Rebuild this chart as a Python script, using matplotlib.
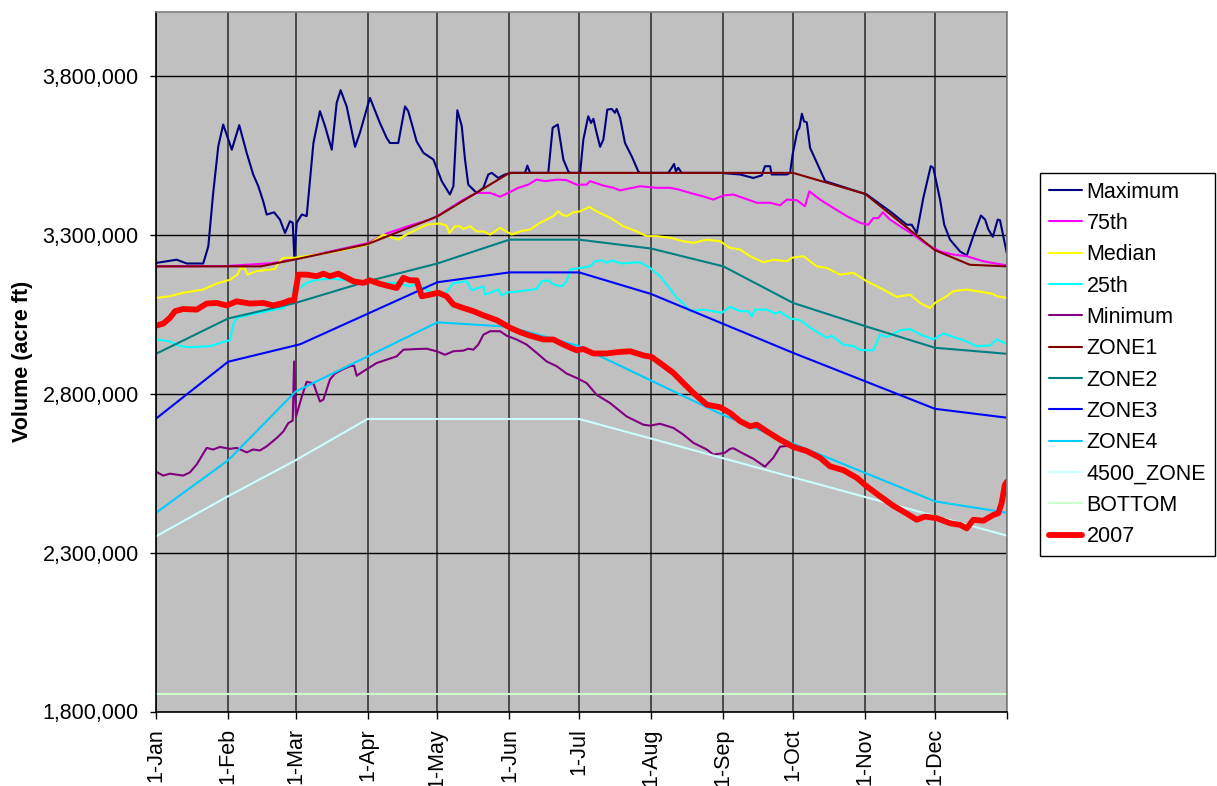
import matplotlib
matplotlib.use('Agg')
import matplotlib.pyplot as plt
from matplotlib.ticker import FuncFormatter
import numpy as np

plt.rcParams['font.family'] = ['Liberation Sans', 'DejaVu Sans']

# day of year (leap-year axis, 0..366), volume in thousand acre ft
month_starts = [0, 31, 60, 91, 121, 152, 182, 213, 244, 274, 305, 335]
month_labels = ['1-Jan', '1-Feb', '1-Mar', '1-Apr', '1-May', '1-Jun',
                '1-Jul', '1-Aug', '1-Sep', '1-Oct', '1-Nov', '1-Dec']

max_day = [0.3, 8.9, 13.2, 20.3, 22.5, 24.6, 26.8, 28.9, 32.6, 35.8, 39.0, 41.8, 44.0, 46.1, 47.6, 50.8,
           53.3, 55.5, 57.6, 58.8, 59.5, 60.5, 62.7, 64.8, 67.7, 70.5, 72.7, 75.6, 77.7, 79.4, 82.0, 85.6,
           87.7, 92.0, 96.3, 99.2, 100.6, 104.2, 107.1, 108.5, 112.1, 115.0, 119.3, 122.9, 126.4, 127.9,
           129.6, 131.5, 132.9, 134.3, 137.9, 140.8, 142.9, 144.4, 147.2, 150.1, 153.0, 158.7, 159.7, 160.9,
           168.7, 170.6, 172.8, 175.2, 177.3, 178.1, 182.4, 183.8, 185.9, 187.1, 188.1, 189.5, 191.0, 192.4,
           194.1, 196.0, 197.4, 198.1, 199.6, 201.7, 204.6, 207.4, 208.2, 220.3, 221.8, 222.8, 223.6, 224.6,
           226.1, 242.6, 251.2, 256.9, 260.5, 261.9, 264.1, 264.8, 271.3, 272.7, 273.8, 275.8, 276.7, 277.8,
           278.7, 279.9, 281.3, 284.9, 287.8, 305.7, 315.7, 322.9, 325.0, 327.2, 330.0, 333.2, 334.3, 337.2,
           339.0, 341.5, 345.8, 348.7, 351.5, 354.8, 356.6, 358.0, 359.9, 362.0, 363.0, 365.9]
max_val = [3211, 3221, 3209, 3209, 3263, 3431, 3578, 3646, 3567, 3644, 3557, 3489, 3452, 3405, 3363, 3370,
           3347, 3305, 3342, 3337, 3227, 3337, 3363, 3358, 3588, 3688, 3641, 3567, 3714, 3754, 3703, 3576,
           3620, 3730, 3651, 3604, 3588, 3588, 3703, 3688, 3593, 3557, 3536, 3468, 3426, 3452,
           3691, 3641, 3536, 3457, 3431, 3447, 3489, 3494, 3478, 3489, 3494, 3494, 3517, 3494,
           3494, 3636, 3646, 3536, 3499, 3494, 3494, 3599, 3672, 3651, 3664, 3620, 3576, 3599,
           3693, 3695, 3683, 3695, 3667, 3588, 3546, 3499, 3494, 3494, 3510, 3522, 3499, 3510,
           3494, 3494, 3489, 3478, 3486, 3515, 3515, 3489, 3489, 3494, 3552, 3625, 3636, 3680,
           3656, 3653, 3573, 3515, 3468, 3426, 3373, 3331, 3331, 3305, 3415, 3515, 3510, 3410,
           3331, 3284, 3247, 3234, 3295, 3360, 3347, 3316, 3293, 3347, 3345, 3242]

p75_day = [0, 30, 50, 60, 75, 91, 99, 110, 117.8, 122.1, 132.2, 137.9, 143.7, 148.0, 151.5, 155.8, 160.1,
           163.7, 167.3, 173.0, 176.6, 180.9, 185.2, 186.7, 192.4, 196.7, 199.6, 208.2, 215.4, 221.1, 224.6,
           229.7, 235.4, 239.7, 244.0, 248.3, 252.6, 258.4, 264.1, 268.4, 271.3, 275.6, 279.1, 281.0, 285.6,
           291.3, 297.1, 302.8, 306.4, 308.5, 310.7, 312.6, 315.7, 320.0, 325.7, 331.5, 337.2, 342.9, 348.7,
           355.8, 365.9]
p75_val = [3200, 3201, 3210, 3224, 3247, 3273, 3303, 3330, 3347, 3363, 3410, 3431, 3431, 3419, 3431, 3447, 3457,
           3473, 3468, 3473, 3471, 3457, 3457, 3468, 3454, 3447, 3439, 3452, 3447, 3447, 3442,
           3431, 3420, 3410, 3423, 3426, 3415, 3400, 3400, 3392, 3410, 3408, 3389, 3436, 3410,
           3384, 3358, 3337, 3331, 3352, 3352, 3370, 3347, 3326, 3300, 3269, 3247, 3237, 3232,
           3216, 3203]

med_day = [0.3, 6.0, 11.7, 20.3, 26.1, 31.8, 35.0, 36.4, 38.3, 39.3, 43.3, 46.9, 51.2, 52.6, 54.8, 59.8, 75,
           91, 97.8, 104.2, 106.4, 112.1, 116.4, 122.1, 125.0, 126.2, 128.6, 130.7, 132.2, 135.1, 137.9,
           140.8, 143.7, 148.0, 153.0, 156.6, 160.9, 165.2, 170.9, 173.0, 174.5, 176.6, 179.5, 182.4, 186.4,
           189.5, 195.3, 201.0, 206.7, 211.0, 215.4, 221.1, 226.8, 231.1, 236.9, 242.6, 246.9, 251.2, 255.5,
           261.2, 265.5, 271.3, 273.4, 278.4, 281.3, 284.2, 288.5, 294.2, 299.9, 305.7, 308.5, 312.8, 318.6,
           324.3, 328.6, 332.9, 335.0, 340.1, 342.9, 348.7, 353.0, 357.3, 360.1, 361.6, 365.9]
med_val = [3101, 3106, 3117, 3127, 3146, 3158, 3174, 3195, 3192, 3174, 3185, 3188, 3192, 3211, 3227, 3227, 3244,
           3268, 3300, 3284, 3295, 3316, 3331, 3335, 3328, 3305, 3326, 3326, 3318, 3326, 3310,
           3310, 3300, 3321, 3300, 3310, 3316, 3337, 3358, 3373, 3363, 3358, 3370, 3373, 3387,
           3373, 3353, 3326, 3310, 3295, 3295, 3290, 3279, 3274, 3284, 3279, 3258, 3253, 3232,
           3213, 3221, 3216, 3227, 3232, 3216, 3200, 3195, 3174, 3180, 3153, 3143, 3127, 3104,
           3111, 3085, 3069, 3085, 3106, 3122, 3127, 3122, 3117, 3113, 3106, 3101]

p25_day = [0.3, 6.0, 10.3, 14.6, 23.2, 27.5, 31.8, 33.2, 34.7, 40.4, 47.6, 54.8, 58.4, 59.4, 61.9, 64.8, 69.1,
           74.8, 80.6, 86.3, 94.9, 103.5, 109.2, 112.1, 116.4, 120.7, 123.6, 127.9, 130.7, 133.6, 135.8,
           140.8, 141.5, 147.2, 148.7, 150.8, 156.6, 163.7, 165.9, 168.7, 170.9, 174.5, 176.6, 178.1, 182.4,
           186.7, 188.8, 191.7, 193.8, 196.0, 200.3, 203.9, 208.2, 212.5, 216.8, 220.3, 224.0, 226.8, 229.7,
           235.4, 239.7, 243.3, 246.9, 251.2, 254.8, 256.2, 257.6, 262.7, 266.2, 268.4, 272.7, 277.0, 282.7,
           288.5, 290.6, 295.6, 299.9, 302.8, 308.5, 311.4, 314.3, 320.0, 324.3, 328.6, 334.3, 338.6, 342.9,
           347.2, 353.0, 358.7, 361.6, 365.9]
p25_val = [2970, 2964, 2949, 2946, 2949, 2959, 2968, 3017, 3038, 3048, 3059, 3069, 3096, 3137, 3132, 3148, 3158,
           3161, 3158, 3153, 3148, 3148, 3137, 3146, 3127, 3111, 3106, 3148, 3150, 3153, 3125,
           3137, 3111, 3127, 3108, 3118, 3122, 3129, 3153, 3156, 3143, 3137, 3153, 3190, 3195,
           3200, 3216, 3219, 3211, 3219, 3209, 3211, 3213, 3195, 3169, 3136, 3101, 3083, 3059,
           3064, 3059, 3054, 3073, 3059, 3059, 3043, 3064, 3064, 3052, 3057, 3036, 3031, 3001,
           2975, 2982, 2954, 2949, 2937, 2936, 2986, 2978, 2999, 3003, 2986, 2970, 2989, 2978,
           2968, 2949, 2951, 2970, 2956]

min_day = [0.3, 3.1, 6.0, 11.7, 14.6, 17.5, 21.8, 24.6, 27.5, 31.8, 34.7, 39.0, 41.8, 44.7, 47.6, 51.9, 54.8,
           56.9, 58.8, 59.4, 60.2, 62.7, 64.8, 67.7, 70.5, 72.0, 74.8, 77.0, 80.6, 83.4, 85.2, 86.3, 89.2,
           94.9, 103.5, 106.4, 112.1, 116.4, 120.7, 124.3, 127.9, 132.2, 134.3, 136.5, 138.6, 140.8, 143.7,
           148.0, 150.8, 155.1, 159.4, 163.7, 168.0, 172.3, 176.6, 180.9, 185.2, 189.5, 195.3, 202.4, 209.6,
           212.5, 216.8, 222.5, 226.8, 231.1, 236.9, 239.7, 242.6, 244.7, 246.9, 248.3, 252.6, 256.9, 261.9,
           265.5, 268.4, 271.3]
min_val = [2553, 2542, 2548, 2542, 2552, 2577, 2629, 2624, 2632, 2626, 2629, 2615, 2624, 2621, 2634, 2660, 2681,
           2707, 2715, 2901, 2727, 2790, 2837, 2832, 2775, 2781, 2844, 2863, 2877, 2886, 2888, 2856, 2870,
           2896, 2917, 2938, 2940, 2941, 2933, 2922, 2933, 2935, 2941, 2938, 2954, 2985, 2996,
           2996, 2982, 2970, 2954, 2928, 2901, 2886, 2863, 2849, 2833, 2796, 2770, 2728, 2702,
           2699, 2705, 2692, 2671, 2645, 2624, 2608, 2611, 2614, 2626, 2628, 2611, 2595, 2570,
           2598, 2633, 2635]

y2007_day = [0.3, 3.1, 6.0, 8.2, 11.7, 17.5, 21.8, 26.1, 30.4, 34.7, 40.4, 46.1, 50.4, 54.8, 57.6, 59.4, 61.2,
             64.8, 69.1, 72.0, 74.8, 78.4, 82.0, 84.9, 89.2, 92.0, 96.3, 100.6, 103.5, 106.4, 109.2, 112.1,
             114.3, 117.8, 121.4, 125.0, 127.9, 132.2, 136.5, 140.8, 146.5, 152.3, 156.6, 160.9, 166.6, 170.9,
             175.2, 180.9, 183.8, 188.1, 193.8, 198.1, 203.9, 209.6, 213.2, 216.8, 222.5, 226.8, 231.1, 236.9,
             242.6, 246.9, 251.2, 255.5, 258.4, 262.7, 268.4, 274.1, 279.9, 285.6, 289.9, 295.6, 301.4, 305.7,
             311.4, 317.1, 321.4, 327.2, 330.7, 335.8, 341.5, 345.8, 348.7, 351.5, 355.8, 360.1, 362.3, 363.7,
             365.1, 366.0]
y2007_val = [3014, 3020, 3038, 3059, 3066, 3064, 3083, 3085, 3077, 3090, 3083, 3085, 3077, 3085, 3093, 3093, 3174,
             3174, 3169, 3177, 3169, 3177, 3164, 3153, 3148, 3156, 3145, 3137, 3132, 3164, 3156, 3156,
             3106, 3111, 3117, 3106, 3080, 3069, 3059, 3046, 3031, 3007, 2993, 2982, 2970, 2970,
             2954, 2936, 2940, 2926, 2926, 2930, 2933, 2920, 2915, 2896, 2865, 2833, 2802, 2765,
             2757, 2739, 2713, 2697, 2702, 2681, 2655, 2632, 2619, 2598, 2571, 2559, 2535, 2508,
             2477, 2447, 2429, 2403, 2413, 2408, 2392, 2387, 2376, 2403, 2400, 2418, 2424, 2456,
             2513, 2523]

zone1_day = [0, 45, 60, 91, 121, 152, 274, 305, 335, 350, 366]
zone1_val = [3200, 3200, 3222, 3270, 3357, 3494, 3494, 3428, 3251, 3205, 3200]
zone2_day = [0, 31, 60, 91, 121, 152, 182, 213, 244, 274, 305, 335, 366]
zone2_val = [2925, 3036, 3085, 3153, 3209, 3284, 3284, 3256, 3200, 3085, 3012, 2944, 2925]
zone3_day = [0, 31, 62, 121, 152, 182, 213, 274, 335, 366]
zone3_val = [2721, 2900, 2955, 3150, 3181, 3181, 3113, 2928, 2752, 2724]
zone4_day = [0, 31, 60, 121, 152, 182, 244, 335, 366]
zone4_val = [2425, 2590, 2806, 3024, 3010, 2949, 2732, 2461, 2425]
z4500_day = [0, 31, 60, 91, 182, 366]
z4500_val = [2351, 2477, 2590, 2720, 2720, 2353]
bottom_day = [0, 366]
bottom_val = [1855, 1855]

# the 2007 record is the minimum from October on
late = [i for i, d in enumerate(y2007_day) if d >= 274]
min_day = min_day + [y2007_day[i] for i in late]
min_val = min_val + [y2007_val[i] for i in late]

series = [
    ('Maximum', max_day, max_val, '#000080', 1.5),
    ('75th', p75_day, p75_val, '#FF00FF', 1.5),
    ('Median', med_day, med_val, '#FFFF00', 1.5),
    ('25th', p25_day, p25_val, '#00FFFF', 1.5),
    ('Minimum', min_day, min_val, '#800080', 1.5),
    ('ZONE1', zone1_day, zone1_val, '#800000', 1.5),
    ('ZONE2', zone2_day, zone2_val, '#008080', 1.5),
    ('ZONE3', zone3_day, zone3_val, '#0000FF', 1.5),
    ('ZONE4', zone4_day, zone4_val, '#00CCFF', 1.5),
    ('4500_ZONE', z4500_day, z4500_val, '#CCFFFF', 1.5),
    ('BOTTOM', bottom_day, bottom_val, '#CCFFCC', 1.5),
    ('2007', y2007_day, y2007_val, '#FF0000', 4.2),
]

fig = plt.figure(figsize=(12.17, 7.86), dpi=100)
ax = fig.add_axes([156 / 1217, 1 - 711.5 / 786, 851 / 1217, 699.5 / 786])
ax.set_facecolor('#C0C0C0')

for name, d, v, c, lw in series:
    ax.plot(d, np.array(v) * 1000, color=c, lw=lw, label=name,
            solid_joinstyle='round', solid_capstyle='round')

ax.set_xlim(0, 366)
ax.set_ylim(1800000, 4000000)
ax.set_xticks(month_starts + [366])
ax.set_xticklabels(month_labels + [''], rotation=90, va='top', ha='center')
ax.set_yticks(np.arange(1800000, 3800001, 500000))
ax.yaxis.set_major_formatter(FuncFormatter(lambda v, p: f'{v:,.0f}'))
ax.tick_params(axis='x', direction='out', length=5, width=1, labelsize=15.5, pad=7)
ax.tick_params(axis='y', direction='out', length=4.5, width=1, labelsize=15.5, pad=8)

ax.set_axisbelow(True)
ax.grid(axis='y', color='black', lw=1)
ax.grid(axis='x', color='#404040', lw=1.3)

for s in ['left', 'bottom']:
    ax.spines[s].set_color('black')
    ax.spines[s].set_linewidth(1.2)
for s in ['top', 'right']:
    ax.spines[s].set_color('#808080')
    ax.spines[s].set_linewidth(1.2)

ax.set_ylabel('Volume (acre ft)', fontsize=15.5, fontweight='bold')
ax.yaxis.set_label_coords(-0.145, 0.5)

leg = ax.legend(loc='upper left', bbox_to_anchor=(1040 / 1217, 1 - 173 / 786),
                bbox_transform=fig.transFigure, fontsize=15.5, frameon=True,
                fancybox=False, edgecolor='black', framealpha=1,
                handlelength=1.55, handletextpad=0.22, labelspacing=0.48,
                borderpad=0.4, borderaxespad=0)
leg.get_frame().set_linewidth(1.0)

fig.savefig('out.png', dpi=100)
